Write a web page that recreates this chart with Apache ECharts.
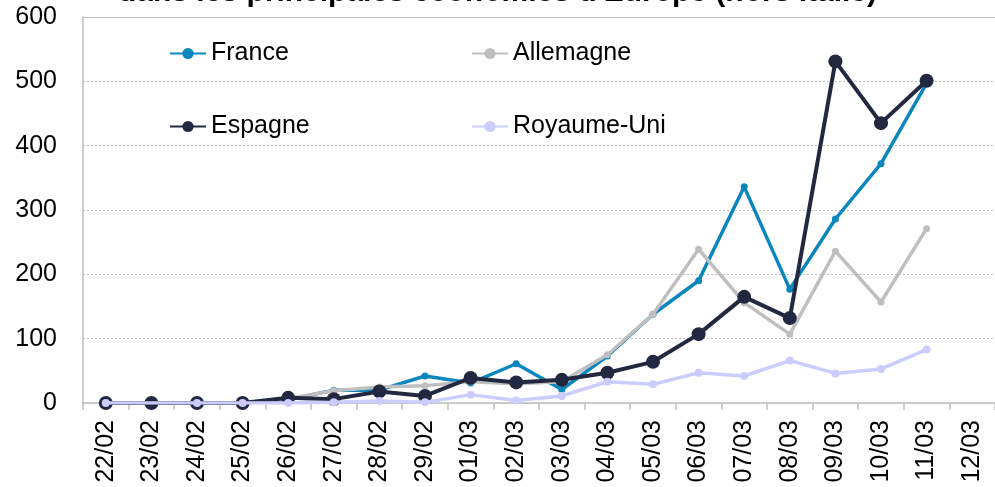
<!DOCTYPE html>
<html>
<head>
<meta charset="utf-8">
<script src="https://cdn.jsdelivr.net/npm/echarts@6/dist/echarts.min.js"></script>
<style>
  html, body { margin: 0; padding: 0; background: #fff; }
  #chart { width: 995px; height: 487px; }
</style>
</head>
<body>
<div id="chart"></div>
<script>
// jours (cas quotidiens)
var categories = ['22/02','23/02','24/02','25/02','26/02','27/02','28/02','29/02','01/03','02/03',
                  '03/03','04/03','05/03','06/03','07/03','08/03','09/03','10/03','11/03','12/03'];
var france    = [0, 0, 0, 0, 5, 20, 20, 42, 31, 61, 21, 73, 138, 190, 336, 177, 286, 372, 497, null];
var allemagne = [0, 0, 0, 0, 7, 19, 25, 27, 33, 30, 33, 75, 138, 239, 156, 107, 236, 157, 271, null];
var espagne   = [0, 0, 0, 0, 8, 6, 18, 11, 39, 32, 36, 47, 64, 107, 165, 132, 531, 435, 501, null];
var royaumeUni = [0, null, 0, 0, 0, 1, 3, 1, 13, 4, 11, 33, 29, 47, 42, 66, 46, 53, 83, null];
var yTicks = { min: 0, max: 600, interval: 100 };

var font = "'Liberation Sans', Arial, sans-serif";

function legendAt(name, left, top) {
    return {
        data: [name],
        left: left,
        top: top,
        padding: 0,
        itemWidth: 36,
        itemHeight: 14,
        itemGap: 0,
        textStyle: { fontFamily: font, fontSize: 25, color: '#000' }
    };
}

function lineSerie(name, data, color, width, size, z) {
    return {
        name: name,
        type: 'line',
        data: data,
        connectNulls: true,
        symbol: 'circle',
        symbolSize: size,
        z: z,
        lineStyle: { color: color, width: width },
        itemStyle: { color: color },
        emphasis: { disabled: true },
        animation: false
    };
}

var option = {
    backgroundColor: '#fff',
    title: {
        text: "dans les principales économies d'Europe (hors Italie)",
        left: 'center',
        top: -27,
        textStyle: { fontFamily: font, fontSize: 30, fontWeight: 'bold', color: '#000' }
    },
    legend: [
        legendAt('France', 169, 41),
        legendAt('Allemagne', 471, 41),
        legendAt('Espagne', 169, 114),
        legendAt('Royaume-Uni', 471, 114)
    ],
    grid: { left: 83, right: 0, top: 17, bottom: 84 },
    xAxis: [{
        type: 'category',
        data: categories,
        boundaryGap: true,
        axisLine: { lineStyle: { color: '#BFBFBF', width: 1.5 } },
        axisTick: { show: true, interval: 0, length: 7, lineStyle: { color: '#BFBFBF', width: 1.5 } },
        axisLabel: { interval: 0, rotate: 90, margin: 17, fontFamily: font, fontSize: 25, color: '#000' }
    }, {
        type: 'category',
        position: 'top',
        data: categories,
        axisLine: { lineStyle: { color: '#BFBFBF', width: 1 } },
        axisTick: { show: false },
        axisLabel: { show: false }
    }],
    yAxis: {
        type: 'value',
        min: yTicks.min,
        max: yTicks.max,
        interval: yTicks.interval,
        axisLine: { show: true, lineStyle: { color: '#BFBFBF', width: 1.5 } },
        axisTick: { show: false },
        axisLabel: { margin: 26, fontFamily: font, fontSize: 25, color: '#000' },
        splitLine: { lineStyle: { color: '#BFBFBF', type: [2, 2], width: 1 } }
    },
    series: [
        lineSerie('France', france, '#0A86BF', 3.5, 7, 2),
        lineSerie('Allemagne', allemagne, '#BFBFBF', 3.5, 7, 3),
        lineSerie('Espagne', espagne, '#222840', 4, 14, 4),
        lineSerie('Royaume-Uni', royaumeUni, '#CCCCFF', 3.5, 8, 5)
    ]
};

var chart = echarts.init(document.getElementById('chart'));
chart.setOption(option);
</script>
</body>
</html>
